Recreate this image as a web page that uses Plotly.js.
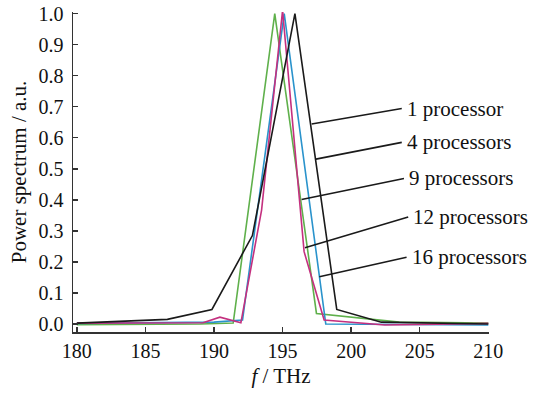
<!DOCTYPE html>
<html>
<head>
<meta charset="utf-8">
<script src="https://cdn.plot.ly/plotly-3.0.1.min.js"></script>
<style>html,body{margin:0;padding:0;background:#fff;}#chart{width:557px;height:393px;}</style>
</head>
<body>
<div id="chart"></div>
<script>
// Frequencies (THz) and normalized power spectrum, per series
const f1 = [180, 186.6, 189.85, 192.8, 195.9, 198.95, 202.2, 210];
const p1 = [0.003, 0.015, 0.047, 0.285, 1.0, 0.047, 0.006, 0.0];

const f4 = [180, 190, 192.08, 195.12, 198.15, 210];
const p4 = [0.002, 0.006, 0.013, 1.0, 0.0, -0.003];

const f9 = [180, 189, 191.4, 194.43, 197.47, 203.5, 210];
const p9 = [-0.002, 0.0, 0.003, 1.0, 0.034, 0.006, 0.003];

const f12 = [180, 189.2, 190.43, 191.96, 193.47, 195.0, 196.57, 198.03, 202.46, 210];
const p12 = [0.003, 0.004, 0.022, 0.004, 0.367, 1.01, 0.233, 0.013, -0.003, 0.002];

const seriesColors = ['#1a1a1a', '#2a93cc', '#5fb04b', '#c4307f'];

// Annotation labels: [text, head f, head p, tail f, tail p]
const labelTexts = ['1 processor', '4 processors', '9 processors', '12 processors', '16 processors'];
const headF = [197.12, 197.43, 196.39, 196.63, 197.68];
const headP = [0.644, 0.531, 0.401, 0.2456, 0.152];
const tailF = [203.69, 203.69, 203.85, 204.16, 204.04];
const tailP = [0.694, 0.585, 0.469, 0.345, 0.215];

const xTicks = [180, 185, 190, 195, 200, 205, 210];
const yTicks = [0, 0.1, 0.2, 0.3, 0.4, 0.5, 0.6, 0.7, 0.8, 0.9, 1.0];

const font = 'Liberation Serif, Times New Roman, serif';

const mk = (x, y, c) => ({x: x, y: y, type: 'scatter', mode: 'lines',
  line: {color: c, width: 1.6}, showlegend: false, hoverinfo: 'skip'});

const data = [
  mk(f9, p9, seriesColors[2]),
  mk(f4, p4, seriesColors[1]),
  mk(f12, p12, seriesColors[3]),
  mk(f1, p1, seriesColors[0])
];

const annotations = labelTexts.map((t, i) => ({
  text: t, x: headF[i], y: headP[i], xref: 'x', yref: 'y',
  ax: tailF[i], ay: tailP[i], axref: 'x', ayref: 'y',
  showarrow: true, arrowhead: 0, arrowwidth: 1.6, arrowcolor: '#1a1a1a',
  standoff: 0, startstandoff: 0, xanchor: 'left', yanchor: 'middle',
  borderpad: 4,
  font: {family: font, size: 21, color: '#111'}
}));

const layout = {
  width: 557, height: 393,
  margin: {l: 73, r: 68, t: 12, b: 61},
  paper_bgcolor: '#ffffff', plot_bgcolor: '#ffffff',
  font: {family: font, size: 20, color: '#111'},
  xaxis: {
    range: [179.72, 210.05], tickvals: xTicks, ticktext: xTicks.map(String),
    ticks: 'inside', ticklen: 5, tickwidth: 1.5, tickcolor: '#333',
    showline: true, linecolor: '#333', linewidth: 1.5, mirror: false,
    showgrid: false, zeroline: false,
    tickfont: {family: font, size: 20, color: '#111'},
    title: {text: '<i>f</i> / THz', font: {family: font, size: 21, color: '#111'}, standoff: 8}
  },
  yaxis: {
    range: [-0.0257, 1.005], tickvals: yTicks, ticktext: yTicks.map(v => v.toFixed(1)),
    ticks: 'inside', ticklen: 5, tickwidth: 1.5, tickcolor: '#333',
    showline: true, linecolor: '#333', linewidth: 1.5,
    showgrid: false, zeroline: false,
    ticklabelstandoff: 4,
    tickfont: {family: font, size: 20, color: '#111'},
    title: {text: 'Power spectrum / a.u.', font: {family: font, size: 21, color: '#111'}, standoff: 6}
  },
  annotations: annotations
};

Plotly.newPlot('chart', data, layout, {displayModeBar: false, staticPlot: true});
</script>
</body>
</html>
